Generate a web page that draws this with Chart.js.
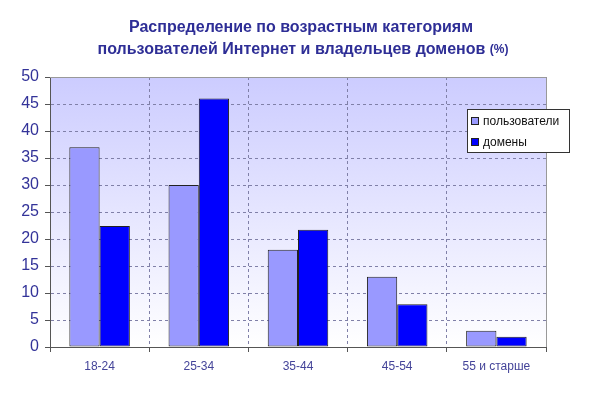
<!DOCTYPE html>
<html>
<head>
<meta charset="utf-8">
<script src="https://cdn.jsdelivr.net/npm/chart.js@4"></script>
<style>
  html, body { margin: 0; padding: 0; background: #fff; }
  #wrap { width: 600px; height: 394px; }
</style>
</head>
<body>
<div id="wrap"><canvas id="chart" width="600" height="394"></canvas></div>
<script>
const categories = ['18-24', '25-34', '35-44', '45-54', '55 и старше'];
const users = [37, 30, 18, 13, 3];
const domains = [22.4, 46, 21.7, 7.9, 1.9];
const seriesNames = ['пользователи', 'домены'];
const titleLines = ['Распределение по возрастным категориям', 'пользователей Интернет и владельцев доменов'];

const colUsers = '#9999ff';
const colDomains = '#0000ff';

// фон области построения: градиент сверху вниз
const bgPlugin = {
  id: 'bg',
  beforeDraw(chart) {
    const { ctx, chartArea: a } = chart;
    const g = ctx.createLinearGradient(0, a.top, 0, a.bottom);
    g.addColorStop(0, '#ccccff');
    g.addColorStop(1, '#ffffff');
    ctx.save();
    ctx.fillStyle = g;
    ctx.fillRect(a.left, a.top, a.right - a.left, a.bottom - a.top);
    ctx.restore();
  },
  afterDraw(chart) {
    const { ctx, chartArea: a } = chart;
    ctx.save();
    // рамка сверху и справа
    ctx.strokeStyle = '#999999';
    ctx.lineWidth = 1;
    ctx.setLineDash([]);
    ctx.beginPath();
    ctx.moveTo(a.left, a.top + 0.5);
    ctx.lineTo(a.right + 0.5, a.top + 0.5);
    ctx.lineTo(a.right + 0.5, a.bottom);
    ctx.stroke();

    // заголовок
    ctx.fillStyle = '#2e2e96';
    ctx.textAlign = 'center';
    ctx.textBaseline = 'middle';
    ctx.font = 'bold 16px Arial, "Liberation Sans", sans-serif';
    ctx.fillText(titleLines[0], 301, 28);
    const main = titleLines[1] + ' ';
    const w1 = ctx.measureText(main).width;
    ctx.font = 'bold 12px Arial, "Liberation Sans", sans-serif';
    const w2 = ctx.measureText('(%)').width;
    const x0 = 303 - (w1 + w2) / 2;
    ctx.textAlign = 'left';
    ctx.font = 'bold 16px Arial, "Liberation Sans", sans-serif';
    ctx.fillText(main, x0, 50);
    ctx.font = 'bold 12px Arial, "Liberation Sans", sans-serif';
    ctx.fillText('(%)', x0 + w1, 50);

    // легенда
    const lx = 467, ly = 109, lw = 102, lh = 43;
    ctx.fillStyle = '#ffffff';
    ctx.fillRect(lx, ly, lw, lh);
    ctx.strokeStyle = '#333333';
    ctx.strokeRect(lx + 0.5, ly + 0.5, lw, lh);
    const cols = [colUsers, colDomains];
    const ys = [121, 142];
    ctx.font = '12px Arial, "Liberation Sans", sans-serif';
    ctx.textBaseline = 'middle';
    for (let i = 0; i < 2; i++) {
      ctx.fillStyle = cols[i];
      ctx.fillRect(471, ys[i] - 4, 8, 8);
      ctx.strokeStyle = '#222222';
      ctx.strokeRect(471.5, ys[i] - 3.5, 7, 7);
      ctx.fillStyle = '#111111';
      ctx.fillText(seriesNames[i], 483, ys[i] + 1);
    }
    ctx.restore();
  }
};

const ctx = document.getElementById('chart').getContext('2d');
const chart = new Chart(ctx, {
  type: 'bar',
  data: {
    labels: categories,
    datasets: [
      { label: seriesNames[0], data: users, backgroundColor: colUsers, borderColor: '#222222', borderWidth: 1, borderSkipped: false },
      { label: seriesNames[1], data: domains, backgroundColor: colDomains, borderColor: '#222222', borderWidth: 1, borderSkipped: false }
    ]
  },
  options: {
    responsive: false,
    animation: false,
    devicePixelRatio: 1,
    layout: { padding: { top: 77, right: 54, bottom: 0, left: 0 } },
    datasets: { bar: { categoryPercentage: 0.61, barPercentage: 1.0 } },
    plugins: {
      legend: { display: false },
      title: { display: false },
      tooltip: { enabled: false }
    },
    scales: {
      x: {
        afterFit(s) { s.height = 47; },
        grid: {
          offset: true,
          color: '#8080a8',
          tickBorderDash: [],
          tickColor: '#555555',
          tickLength: 5
        },
        border: { color: '#555555', width: 1, dash: [3, 3] },
        ticks: {
          color: '#444499',
          font: { family: 'Arial, "Liberation Sans", sans-serif', size: 12 },
          padding: 7
        }
      },
      y: {
        min: 0,
        max: 50,
        afterFit(s) { s.width = 50; },
        grid: {
          color: (c) => (c.tick && c.tick.value === 50 ? 'rgba(0,0,0,0)' : '#8080a8'),
          tickBorderDash: [],
          tickColor: '#555555',
          tickLength: 5
        },
        border: { color: '#555555', width: 1, dash: [3, 3] },
        ticks: {
          stepSize: 5,
          color: '#333399',
          font: { family: 'Arial, "Liberation Sans", sans-serif', size: 16 },
          padding: 6
        }
      }
    }
  },
  plugins: [bgPlugin]
});
</script>
</body>
</html>
